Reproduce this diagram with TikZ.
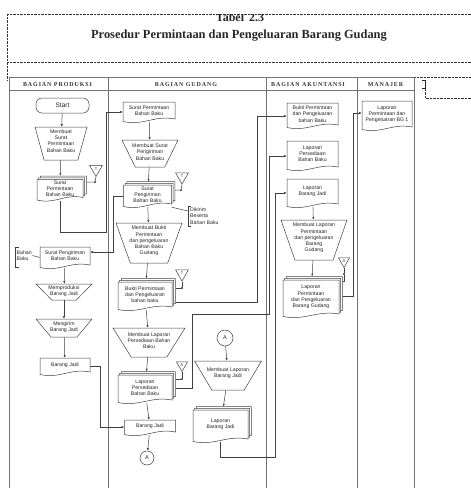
\documentclass[tikz,border=0pt]{standalone}
\usepackage{fontspec}
\setmainfont{Liberation Serif}
\setsansfont{Liberation Sans}
\usetikzlibrary{shapes.geometric,arrows.meta,calc}
\newcommand\docpath[4]{%
  \draw[docln] ({#1-#3/2},{#2-#4/2}) -- ({#1+#3/2},{#2-#4/2}) -- ({#1+#3/2},{#2+#4/2-3})
    .. controls ({#1+0.1*#3},{#2+#4/2-7}) and ({#1-0.1*#3},{#2+#4/2+4}) .. ({#1-#3/2},{#2+#4/2-0.5}) -- cycle;}
\newcommand\mkdoc[6]{%
  \docpath{#2}{#3}{#4}{#5}%
  \node[txt, minimum width=#4pt, minimum height=#5pt] (#1) at (#2,#3) {};%
  \node[txt] (#1t) at (#2,#3-1.5) {#6};}
\newcommand\mkmdoc[6]{%
  \docpath{#2+3.4}{#3-3.4}{#4}{#5}%
  \docpath{#2+1.7}{#3-1.7}{#4}{#5}%
  \docpath{#2}{#3}{#4}{#5}%
  \node[txt, minimum width=#4pt, minimum height=#5pt] (#1) at (#2,#3) {};%
  \node[txt] (#1t) at (#2,#3-1.5) {#6};}
\begin{document}
\begin{tikzpicture}[x=1pt,y=-1pt,
  every node/.style={text=black!85},
  txt/.style={font=\sffamily\fontsize{5.2}{6.2}\selectfont, align=center, inner sep=0.5pt},
  docln/.style={draw=black!75, fill=white, line width=0.5pt},
  ln/.style={draw=black!75, line width=0.5pt},
  arr/.style={ln, -{Latex[length=2.6pt,width=2.2pt]}},
  arrm/.style={arr, shorten >=3.4pt},
  manual/.style={trapezium, shape border rotate=180, trapezium stretches=true, trapezium left angle=#1, trapezium right angle=#1, draw=black!75, fill=white, line width=0.5pt, inner sep=1pt},
  tri/.style={regular polygon, regular polygon sides=3, shape border rotate=180, draw=black!75, fill=white, line width=0.5pt, minimum size=15pt, inner sep=0pt, font=\sffamily\fontsize{4}{4}\selectfont},
  dot/.style={circle, fill=black!80, inner sep=0pt, minimum size=2.2pt},
  conn/.style={circle, draw=black!75, fill=white, line width=0.5pt, inner sep=0pt, font=\sffamily\fontsize{5.5}{5.5}\selectfont},
  lane/.style={draw=black!55, line width=0.9pt},
  frame/.style={draw=black!80, line width=0.7pt, dash pattern=on 0.7pt off 0.7pt},
  head/.style={font=\rmfamily\bfseries\fontsize{6}{6}\selectfont\addfontfeature{LetterSpace=15}, text=black!80}
]
\useasboundingbox (0,0) rectangle (471,488);
% frame
\draw[frame] (7,14) -- (471,14);
\draw[frame] (7,14) -- (7,80);
\draw[frame] (7,62) -- (471,62);
\draw[frame] (414,77) -- (471,77);
\draw[frame] (425,86) -- (425,98) -- (471,98);
\draw[black!85, line width=0.9pt] (422,80) -- (425,80) -- (425,88) -- (422,88);
\begin{scope}
\clip (0,14.5) rectangle (471,30);
\node[font=\rmfamily\bfseries\fontsize{12}{12}\selectfont, anchor=base] (ttl) at (240,21.5) {Tabel\hspace{5pt}2.3};
\end{scope}
\node[font=\rmfamily\bfseries\fontsize{12.4}{12.4}\selectfont, anchor=base] (ttl2) at (239,38.5) {Prosedur Permintaan dan Pengeluaran Barang Gudang};
% lanes
\foreach \xx in {9,108,266,357,414} \draw[lane] (\xx,77) -- (\xx,488);
\draw[lane] (9,77) -- (414,77);
\draw[lane] (9,90) -- (414,90);
\node[head] (h1) at (57.5,85) {BAGIAN PRODUKSI};
\node[head] (h2) at (186,85) {BAGIAN GUDANG};
\node[head] (h3) at (308,85) {BAGIAN AKUNTANSI};
\node[head] (h4) at (385.5,85) {MANAJER};

% Produksi
\node[txt, draw=black!75, line width=0.5pt, rounded corners=6pt, minimum width=53pt, minimum height=15pt, font=\sffamily\fontsize{6.5}{6.5}\selectfont] (start) at (62.5,105.5) {Start};
\node[manual=75, minimum width=52pt, minimum height=33pt] (p1) at (61,143.5) {};
\node[txt] (p1t) at (61,141) {Membuat\\Surat\\Permintaan\\Bahan Baku};
\mkmdoc{p2}{60}{190}{46}{21}{Surat\\Permintaan\\Bahan Baku}
\node[tri] (T1) at (96,169) {T};
\node[dot] (d1) at (95,182) {};
\mkdoc{p3}{65}{257.5}{50}{21}{Surat Pengiriman\\Bahan Baku}
\node[txt, align=left, anchor=west] (an1) at (16,255.5) {Bahan\\Baku};
\draw[ln] (18.5,247) -- (15,247) -- (15,267) -- (18.5,267);
\node[manual=57, minimum width=56pt, minimum height=16pt] (p4) at (64,292) {};
\node[txt] (p4t) at (64,291) {Memproduksi\\Barang Jadi};
\node[manual=60, minimum width=56pt, minimum height=18pt] (p5) at (64,328) {};
\node[txt] (p5t) at (64,327) {Mengirim\\Barang Jadi};
\mkdoc{p6}{65}{366.5}{50}{17}{Barang Jadi}

% Gudang
\mkdoc{g1}{149}{112}{52}{20}{Surat Permintaan\\Bahan Baku}
\node[manual=66, minimum width=56pt, minimum height=27pt] (g2) at (150,153.5) {};
\node[txt] (g2t) at (150,152) {Membuat Surat\\Pengiriman\\Bahan Baku};
\mkmdoc{g3}{147.5}{196}{48}{22}{Surat\\Pengiriman\\Bahan Baku}
\node[tri] (T2) at (182,176.5) {T};
\node[dot] (d2) at (181,190) {};
\node[txt, align=left, anchor=west] (an2) at (189.5,216) {Dikirim\\Beserta\\Bahan Baku};
\draw[ln] (191,206) -- (188,206) -- (188,226) -- (191,226);
\node[manual=69, minimum width=66pt, minimum height=40pt] (g4) at (149,243) {};
\node[txt] (g4t) at (149,241) {Membuat Bukti\\Permintaan\\dan pengeluaran\\Bahan Baku\\Gudang};
\mkmdoc{g5}{145}{296}{54}{28}{Bukti Permintaan\\dan Pengeluaran\\bahan baku}
\node[tri] (T3) at (182,273.5) {T};
\node[dot] (d3) at (182,288) {};
\node[manual=63, minimum width=72pt, minimum height=29pt] (g6) at (149,342.5) {};
\node[txt] (g6t) at (149,340.5) {Membuat Laporan\\Persediaan Bahan\\Baku};
\mkmdoc{g7}{145}{389}{54}{28}{Laporan\\Persediaan\\Bahan Baku}
\node[tri, minimum size=13pt] (T4) at (182,365) {A};
\node[dot] (d4) at (182,379) {};
\mkdoc{g8}{150}{427.5}{51}{15}{Barang Jadi}
\node[conn, minimum size=14pt] (A1) at (147,458) {A};
\node[conn, minimum size=16pt] (A2) at (225,338) {A};
\node[manual=62, minimum width=67pt, minimum height=29pt] (g9) at (228,375.5) {};
\node[txt] (g9t) at (228,373) {Membuat Laporan\\Barang Jadi};
\mkmdoc{g10}{220.5}{426}{55}{32}{Laporan\\Barang Jadi}

% Akuntansi
\mkdoc{a1}{312.5}{115.5}{51}{25}{Bukti Permintaan\\dan Pengeluaran\\bahan Baku}
\mkdoc{a2}{312.5}{155.5}{51}{29}{Laporan\\Persediaan\\Bahan Baku}
\mkdoc{a3}{312.5}{193}{51}{28}{Laporan\\Barang Jadi}
\node[manual=70, minimum width=66pt, minimum height=40pt] (a4) at (314,240) {};
\node[txt] (a4t) at (314,238) {Membuat Laporan\\Permintaan\\dan pengeluaran\\Barang\\Gudang};
\mkmdoc{a5}{311}{298.5}{56}{37}{Laporan\\Permintaan\\dan Pengeluaran\\Barang Gudang}
\node[tri, minimum size=13pt] (T5) at (344,261) {A};
\node[dot] (d5) at (344,274) {};

% Manajer
\mkdoc{m1}{387}{115.5}{50}{29}{Laporan\\Permintaan dan\\Pengeluaran BG 1}

% coordinates
\coordinate (k0) at (106,232);
\coordinate (k1) at (113,252);
\coordinate (k2) at (100,427);
\coordinate (k3) at (257,116);
\coordinate (k4) at (192,314);
\coordinate (k5) at (269,156);
\coordinate (k6) at (275,457);
\coordinate (k7) at (353,113);
\coordinate (p2r) at ($(p2.east)+(3.4,0)$);
\coordinate (g3r) at ($(g3.east)+(3.4,0)$);
\coordinate (g5r) at ($(g5.east)+(3.4,6)$);
\coordinate (g7r) at ($(g7.east)+(3.4,-1)$);
\coordinate (a5r) at ($(a5.east)+(3.4,-2)$);
\coordinate (d5b) at (344,281);
\coordinate (b2) at (188,211);

% connectors
\draw[arr] (start) -- (p1);
\draw[arrm] (p1) -- (p2);
\draw[arr] (p2.south) |- (k0) |- (g1.west);
\draw[arr] (g1) -- (g2);
\draw[arrm] (g2) -- (g3);
\draw[arr] (g3.west) -| (k1) -- (k1 -| p3.east);
\draw[ln] (an1.east) -- (p3.west);
\draw[arr] (p3) -- (p4);
\draw[arr] (p4) -- (p5);
\draw[arr] (p5) -- (p6);
\draw[arr] (p6.east) -| (k2) -- (k2 -| g8.west);
\draw[arr] (g3) -- (g4);
\draw[arrm] (g4) -- (g5);
\draw[arr] (g5) -- (g6);
\draw[arrm] (g6) -- (g7);
\draw[arr] (g7) -- (g8);
\draw[arr] (g8) -- (A1);
\draw[ln] (g3.south east) -- (b2);
\draw[arr] (g5r) -| (k3) -- (k3 -| a1.west);
\draw[arr] (g7r) -| (k4) -| (k5) -- (k5 -| a2.west);
\draw[arr] (A2) -- (g9);
\draw[arrm] (g9) -- (g10);
\draw[arr] (g10.south) |- (k6) |- (a3.west);
\draw[arr] (a3) -- (a4);
\draw[arrm] (a4) -- (a5);
\draw[arr] (a5r) -| (k7) -- (k7 -| m1.west);
% archive links
\draw[ln] (T1.south) -- (d1) -- (d1 -| p2r);
\draw[ln] (T2.south) -- (d2) -- (d2 -| g3r);
\draw[ln] (T3.south) -- (d3) -- (d3 -| g5r);
\draw[ln] (T4.south) -- (d4) -- (d4 -| g7r);
\draw[ln] (T5.south) -- (d5) -- (d5b) -- (d5b -| a5r);
\end{tikzpicture}
\end{document}
